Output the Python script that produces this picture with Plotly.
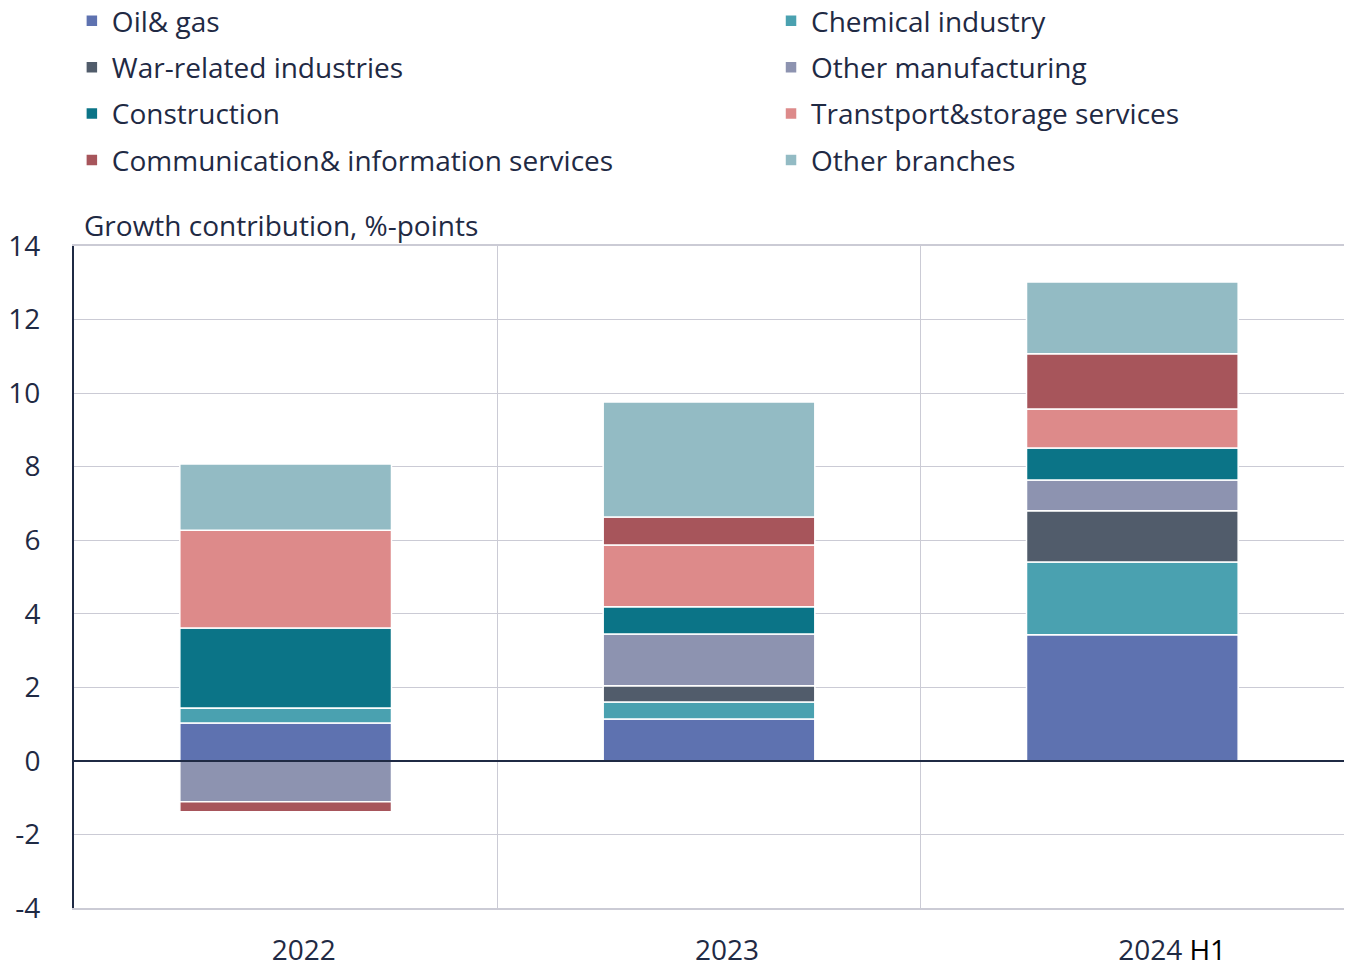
import plotly.graph_objects as go

categories = ["2022", "2023", "2024 H1"]
x_tick_labels = ["2022", "2023", "\u00a0\u00a0\u00a0\u00a0\u00a0\u00a02024 <span style='color:#000000'>H1</span>"]
series_names = ["Oil& gas", "Chemical industry", "War-related industries", "Other manufacturing",
                "Construction", "Transtport&storage services", "Communication& information services",
                "Other branches"]
oil_gas = [1.03, 1.14, 3.43]
chemical = [0.41, 0.46, 1.98]
war_related = [0.0, 0.44, 1.39]
other_manufacturing = [-1.11, 1.41, 0.84]
construction = [2.17, 0.74, 0.87]
transport = [2.66, 1.68, 1.06]
communication = [-0.27, 0.76, 1.50]
other_branches = [1.80, 3.13, 1.95]
y_ticks = [-4, -2, 0, 2, 4, 6, 8, 10, 12, 14]
y_tick_labels = ["-4", "-2", "0", "2", "4", "6", "8", "10", "12", "14"]

values = [oil_gas, chemical, war_related, other_manufacturing, construction, transport,
          communication, other_branches]
colors = ["#5E72B0", "#4AA1B0", "#515C6B", "#8D93B0", "#0B7487", "#DD8A8A", "#A7555B", "#93BBC4"]
legend_col = ["legend", "legend2", "legend", "legend2", "legend", "legend2", "legend", "legend2"]

FONT = "Open Sans"
TXT = "#1F2A44"

fig = go.Figure()
for name, vals, col, lg in zip(series_names, values, colors, legend_col):
    fig.add_trace(go.Bar(x=categories, y=vals, name=name, legend=lg, legendgroup=name,
                         marker=dict(color=col, line=dict(color="white", width=1.5)), width=0.5))

leg_common = dict(orientation="v", y=1.3776, xref="container", yref="paper", xanchor="left", yanchor="top",
                  traceorder="grouped", tracegroupgap=7, bgcolor="rgba(0,0,0,0)",
                  font=dict(size=28, family=FONT, color=TXT))

fig.update_layout(
    barmode="relative",
    width=1356, height=975,
    margin=dict(l=74, r=12, t=246, b=67, autoexpand=False),
    plot_bgcolor="white", paper_bgcolor="white",
    font=dict(family=FONT, color=TXT, size=28),
    showlegend=True,
    legend=dict(x=0.053, **leg_common),
    legend2=dict(x=0.5686, **leg_common),
    annotations=[dict(text="Growth contribution, %-points", xref="paper", yref="paper", x=0.0063, y=1,
                      xanchor="left", yanchor="bottom", yshift=0, showarrow=False,
                      font=dict(size=28, family=FONT, color=TXT))],
    shapes=[dict(type="line", xref="paper", x0=0, x1=1, yref="y", y0=0, y1=0, layer="above",
                 line=dict(color="#1F2A44", width=2))],
)
fig.update_xaxes(showgrid=True, gridcolor="#CBCBD5", gridwidth=1, tickson="boundaries", ticks="",
                 showline=True, linecolor="#CBCBD5", linewidth=2, mirror=True,
                 tickvals=categories, ticktext=x_tick_labels,
                 tickfont=dict(size=28, family=FONT, color=TXT), ticklabelstandoff=16, ticklabelshift=18)
fig.update_yaxes(range=[-4, 14], tickvals=y_ticks, ticktext=y_tick_labels, showgrid=True, gridcolor="#CBCBD5",
                 gridwidth=1, zeroline=False,
                 showline=True, linecolor="#1F2A44", linewidth=2, ticks="",
                 tickfont=dict(size=28, family=FONT, color=TXT), ticklabelstandoff=26)
fig.write_html("out.html")
